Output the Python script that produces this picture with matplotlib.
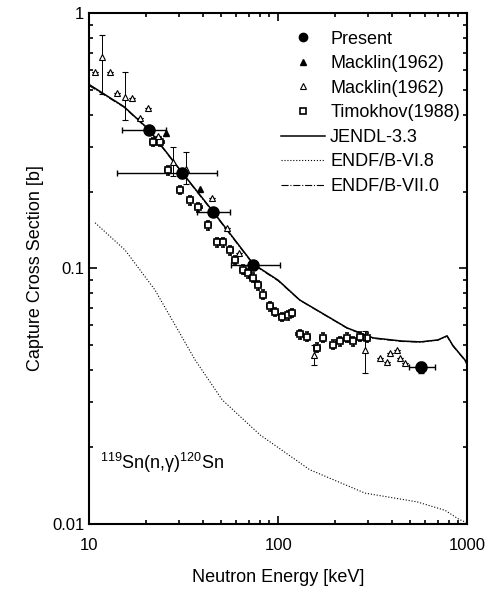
import numpy as np
import matplotlib
matplotlib.use("Agg")
import matplotlib.pyplot as plt
from matplotlib.ticker import LogLocator, NullFormatter, FixedLocator, FixedFormatter

plt.rcParams['font.family'] = ['Liberation Sans', 'DejaVu Sans']
plt.rcParams['mathtext.fontset'] = 'custom'
plt.rcParams['mathtext.rm'] = 'Liberation Sans'
plt.rcParams['mathtext.it'] = 'Liberation Sans:italic'

# Present data (keV, b)
pres_e = [20.7, 31.0, 45.3, 74.0, 570]
pres_s = [0.348, 0.236, 0.166, 0.103, 0.041]
pres_elo = [15.0, 14.0, 37.0, 56.0, 490]
pres_ehi = [25.5, 47.5, 55.7, 102, 680]
pres_ds = [0.012, 0.009, 0.006, 0.004, 0.002]

# Macklin(1962) filled
mack1_e = [25.4, 38.6]
mack1_s = [0.34, 0.205]

# Macklin(1962) open
mack2_e = [10.8, 11.7, 12.9, 14.1, 15.5, 16.9, 18.6, 20.5, 23.0, 27.8, 32.5,
           44.8, 53.8, 62.0, 155, 289, 347, 378, 392, 425, 443, 470]
mack2_s = [0.59, 0.673, 0.59, 0.486, 0.47, 0.465, 0.39, 0.425, 0.33, 0.26, 0.245,
           0.189, 0.144, 0.115, 0.046, 0.048, 0.0445, 0.043, 0.0468, 0.048, 0.0445, 0.0428]
mack2_lo = [0, 0.19, 0, 0, 0.09, 0, 0, 0, 0, 0.03, 0.03,
            0, 0, 0, 0.004, 0.009, 0, 0, 0, 0, 0, 0]
mack2_hi = [0, 0.15, 0, 0, 0.12, 0, 0, 0, 0, 0.04, 0.04,
            0, 0, 0, 0.004, 0.009, 0, 0, 0, 0, 0, 0]

# Timokhov(1988)
timo_e = [21.8, 23.8, 26.2, 30.3, 34.2, 37.8, 42.6, 47.6, 51.2, 55.7, 59.3, 65.3,
          69.0, 73.8, 78.4, 83.4, 90.6, 96.4, 105, 113, 118, 130, 142, 161, 173,
          195, 212, 232, 249, 272, 295]
timo_s = [0.313, 0.313, 0.243, 0.203, 0.185, 0.174, 0.148, 0.127, 0.127, 0.118,
          0.108, 0.099, 0.096, 0.092, 0.086, 0.079, 0.071, 0.0676, 0.0646, 0.0657,
          0.067, 0.0552, 0.054, 0.049, 0.0536, 0.0503, 0.052, 0.0536, 0.052, 0.054,
          0.0536]

# evaluations
jendl_e = [10, 15.3, 20.7, 31, 45.3, 74, 100, 130, 232, 318, 450, 566, 700, 783,
           840, 900, 975, 1000]
jendl_s = [0.525, 0.43, 0.35, 0.238, 0.167, 0.104, 0.090, 0.0753, 0.0585, 0.0535,
           0.052, 0.0516, 0.0525, 0.0545, 0.050, 0.047, 0.0438, 0.042]

endf7_e = [10, 15.3, 20.7, 31, 45.3, 74, 100, 130, 232, 318, 450, 566, 700, 783,
           840, 900, 975, 1000]
endf7_s = [0.52, 0.428, 0.348, 0.237, 0.166, 0.1035, 0.0895, 0.0752, 0.0583, 0.0533,
           0.0518, 0.0515, 0.0524, 0.0543, 0.0498, 0.0468, 0.0437, 0.042]

endf6_e = [10.75, 15.5, 22.3, 36.4, 50.6, 80.3, 147, 288, 543, 765, 910, 1000]
endf6_s = [0.151, 0.118, 0.0824, 0.0438, 0.0306, 0.0223, 0.0163, 0.0132, 0.0122,
           0.0113, 0.0104, 0.0101]

fig = plt.figure(figsize=(4.98, 5.94), dpi=100)
ax = fig.add_axes([0.179, 0.118, 0.759, 0.860])

ax.plot(jendl_e, jendl_s, '-', color='black', lw=1.1, label='JENDL-3.3')
ax.plot(endf6_e, endf6_s, ':', color='black', lw=0.8, label='ENDF/B-VI.8')
ax.plot(endf7_e, endf7_s, '-.', color='black', lw=0.8, label='ENDF/B-VII.0')

ax.errorbar(timo_e, timo_s, xerr=np.array(timo_e) * 0.04, yerr=np.array(timo_s) * 0.04,
            fmt='s', ms=5, mfc='white', mec='black', mew=1.2, ecolor='black',
            elinewidth=0.8, capsize=1.5, zorder=3)
ax.errorbar(mack2_e, mack2_s, yerr=[mack2_lo, mack2_hi], fmt='^', ms=5, mfc='white',
            mec='black', mew=0.8, ecolor='black', elinewidth=0.7, capsize=2.5,
            ls='none', zorder=4)
ax.plot(mack1_e, mack1_s, '^', ms=5, color='black', zorder=4)
ax.errorbar(pres_e, pres_s,
            xerr=[np.array(pres_e) - np.array(pres_elo), np.array(pres_ehi) - np.array(pres_e)],
            yerr=pres_ds, fmt='o', ms=8, color='black', ecolor='black', elinewidth=1.0,
            capsize=2, zorder=5)

# legend handles
h_pres = ax.plot([], [], 'o', ms=6, color='black', label='Present')[0]
h_m1 = ax.plot([], [], '^', ms=5, color='black', label='Macklin(1962)')[0]
h_m2 = ax.plot([], [], '^', ms=5, mfc='white', mec='black', mew=0.8, label='Macklin(1962)')[0]
h_t = ax.plot([], [], 's', ms=5, mfc='white', mec='black', mew=1.2, label='Timokhov(1988)')[0]
lines = ax.get_lines()[:3]
ax.legend(handles=[h_pres, h_m1, h_m2, h_t] + lines, loc='upper right',
          bbox_to_anchor=(1.0, 0.98), frameon=False,
          fontsize=13, handlelength=2.4, handletextpad=0.3, labelspacing=0.42,
          borderaxespad=0.0, borderpad=0.4)

ax.text(0.03, 0.12, r'$^{119}$Sn(n,γ)$^{120}$Sn', transform=ax.transAxes,
        fontsize=13, va='center', ha='left')

ax.set_xscale('log')
ax.set_yscale('log')
ax.set_xlim(10, 1000)
ax.set_ylim(0.01, 1)
ax.xaxis.set_major_locator(FixedLocator([10, 100, 1000]))
ax.xaxis.set_major_formatter(FixedFormatter(['10', '100', '1000']))
ax.yaxis.set_major_locator(FixedLocator([0.01, 0.1, 1]))
ax.yaxis.set_major_formatter(FixedFormatter(['0.01', '0.1', '1']))
ax.xaxis.set_minor_locator(LogLocator(base=10, subs=np.arange(2, 10)))
ax.yaxis.set_minor_locator(LogLocator(base=10, subs=np.arange(2, 10)))
ax.xaxis.set_minor_formatter(NullFormatter())
ax.yaxis.set_minor_formatter(NullFormatter())
ax.tick_params(which='both', direction='in', top=True, right=True, labelsize=12, width=1.2)
ax.tick_params(axis='x', which='major', pad=10)
ax.tick_params(which='major', length=6)
ax.tick_params(which='minor', length=3)
for s in ax.spines.values():
    s.set_linewidth(1.5)

ax.set_xlabel('Neutron Energy [keV]', fontsize=13, labelpad=12)
ax.set_ylabel('Capture Cross Section [b]', fontsize=13, labelpad=6)

fig.savefig('out.png', dpi=100)
